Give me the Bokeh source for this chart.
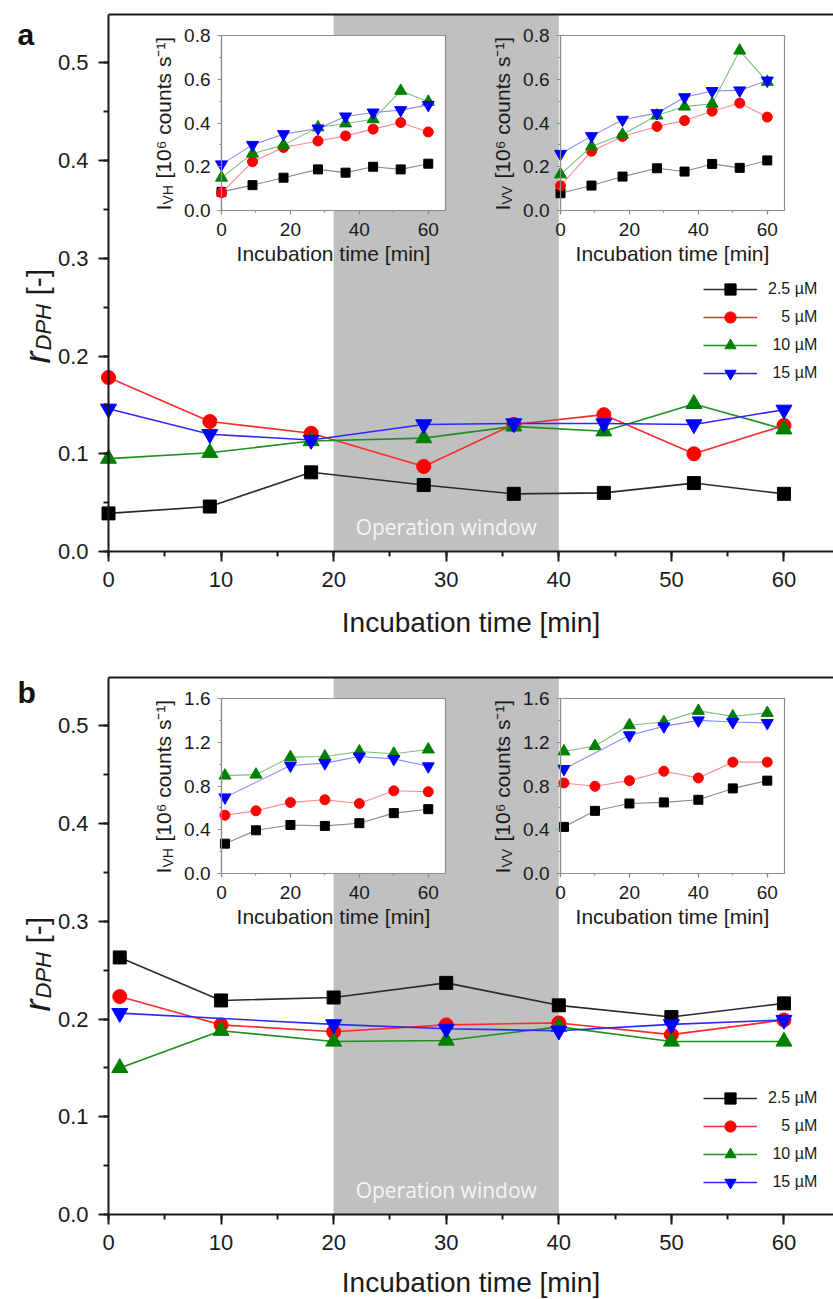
import math
from bokeh.plotting import figure
from bokeh.models import (Range1d, LinearAxis, SingleIntervalTicker, FixedTicker,
                          Label, Legend, LegendItem, PrintfTickFormatter)
from bokeh.layouts import column
from bokeh.embed import file_html
from bokeh.resources import INLINE

# ---------------- data ----------------
series_labels = ["2.5 µM", "\u2007\u20085 µM", "\u200810 µM", "\u200815 µM"]

# panel a : main r_DPH
a_time = [0, 9, 18, 28, 36, 44, 52, 60]
a_r_25 = [0.039, 0.046, 0.081, 0.068, 0.059, 0.060, 0.070, 0.059]
a_r_5 = [0.178, 0.133, 0.121, 0.087, 0.130, 0.140, 0.100, 0.129]
a_r_10 = [0.095, 0.101, 0.113, 0.116, 0.128, 0.123, 0.151, 0.125]
a_r_15 = [0.146, 0.120, 0.114, 0.130, 0.131, 0.131, 0.130, 0.145]
# panel a : inset I_VH
a_vh_25 = [0.085, 0.116, 0.150, 0.188, 0.173, 0.200, 0.188, 0.214]
a_vh_5 = [0.081, 0.223, 0.288, 0.318, 0.341, 0.372, 0.402, 0.359]
a_vh_10 = [0.150, 0.260, 0.300, 0.380, 0.398, 0.417, 0.547, 0.497]
a_vh_15 = [0.211, 0.300, 0.349, 0.375, 0.430, 0.448, 0.459, 0.483]
# panel a : inset I_VV
a_vv_25 = [0.079, 0.114, 0.155, 0.193, 0.178, 0.213, 0.195, 0.229]
a_vv_5 = [0.113, 0.271, 0.338, 0.384, 0.411, 0.454, 0.491, 0.427]
a_vv_10 = [0.165, 0.293, 0.347, 0.434, 0.475, 0.488, 0.731, 0.588]
a_vv_15 = [0.259, 0.340, 0.415, 0.445, 0.518, 0.546, 0.549, 0.594]

# panel b : main r_DPH
b_time = [1, 10, 20, 30, 40, 50, 60]
b_time_15 = [1, 20, 30, 40, 50, 60]
b_r_25 = [0.263, 0.219, 0.222, 0.237, 0.214, 0.202, 0.216]
b_r_5 = [0.223, 0.194, 0.187, 0.194, 0.196, 0.184, 0.199]
b_r_10 = [0.150, 0.188, 0.177, 0.178, 0.192, 0.177, 0.177]
b_r_15 = [0.206, 0.1945, 0.190, 0.188, 0.1945, 0.199]
# panel b : inset I_VH
b_vh_25 = [0.273, 0.395, 0.444, 0.435, 0.460, 0.552, 0.588]
b_vh_5 = [0.533, 0.573, 0.650, 0.674, 0.640, 0.756, 0.748]
b_vh_10 = [0.895, 0.904, 1.064, 1.070, 1.116, 1.095, 1.134]
b_vh_15 = [0.696, 0.987, 1.009, 1.070, 1.048, 0.980]
# panel b : inset I_VV
b_vv_25 = [0.426, 0.573, 0.640, 0.650, 0.674, 0.778, 0.849]
b_vv_5 = [0.828, 0.797, 0.849, 0.935, 0.874, 1.018, 1.018]
b_vv_10 = [1.116, 1.165, 1.355, 1.385, 1.487, 1.437, 1.468]
b_vv_15 = [0.956, 1.264, 1.345, 1.400, 1.385, 1.376]

operation_window = [20, 40]
main_x = (0, 64.4)
main_y = (0, 0.5494)
inset_x = (0, 65)

# ---------------- style / layout ----------------
FONT = "Liberation Sans"
COLORS = ["#000000", "#ff0000", "#008000", "#0000ff"]
LINE_COLORS = ["#2a2a2a", "#ff2a2a", "#1f8f1f", "#2a2aff"]
INSET_LINE_COLORS = ["#8a8a8a", "#ff8a8a", "#7cbf7c", "#8a8aff"]
MARKERS = ["square", "circle", "triangle", "inverted_triangle"]
MAIN_SIZES = [13, 14, 16, 16]
INSET_SIZES = [9, 10, 12, 12]
AXIS_COLOR = "#1a1a1a"
INSET_AXIS_COLOR = "#8c8c8c"

FIG_W = 833
PLOT_L = 108              # px where the main axes cross
PLOT_H = 537              # height of the main data area
LEFT_BOX = (221, 445)     # inset boxes, px from figure left
RIGHT_BOX = (560, 784)
BOX_TOP, BOX_BOTTOM = 21, 196   # px below the top of the data area


def span_range(lo_px, hi_px, total_px, lo, hi, flip=False):
    s = (hi_px - lo_px) / (hi - lo)
    if flip:  # pixels measured from top
        return Range1d(lo - (total_px - hi_px) / s, hi + lo_px / s)
    return Range1d(lo - lo_px / s, hi + (total_px - hi_px) / s)


def style_main_axis(ax):
    ax.axis_line_width = 2
    ax.axis_line_color = AXIS_COLOR
    ax.major_tick_line_width = 2
    ax.minor_tick_line_width = 2
    ax.major_tick_line_color = AXIS_COLOR
    ax.minor_tick_line_color = AXIS_COLOR
    ax.major_tick_out = 10
    ax.major_tick_in = 0
    ax.minor_tick_out = 5
    ax.minor_tick_in = 0
    ax.major_label_text_font = FONT
    ax.major_label_text_font_size = "22px"
    ax.major_label_text_color = AXIS_COLOR
    ax.axis_label_text_font = FONT
    ax.axis_label_text_font_size = "28px"
    ax.axis_label_text_font_style = "normal"
    ax.axis_label_text_color = AXIS_COLOR


def style_inset_axis(ax):
    ax.axis_line_width = 1.2
    ax.axis_line_color = INSET_AXIS_COLOR
    ax.major_tick_line_color = INSET_AXIS_COLOR
    ax.minor_tick_line_color = INSET_AXIS_COLOR
    ax.major_tick_line_width = 1.2
    ax.minor_tick_line_width = 1.2
    ax.major_tick_out = 4
    ax.major_tick_in = 0
    ax.minor_tick_out = 2
    ax.minor_tick_in = 0
    ax.major_label_text_font = FONT
    ax.major_label_text_font_size = "19px"
    ax.major_label_text_color = "#1a1a1a"
    ax.axis_label_text_font = FONT
    ax.axis_label_text_font_size = "21px"
    ax.axis_label_text_font_style = "normal"
    ax.axis_label_text_color = "#1a1a1a"


def rot_label(p, x, y, text, size, style="normal", color="#1a1a1a"):
    p.add_layout(Label(x=x, y=y, x_units="screen", y_units="screen", text=text,
                       angle=math.pi / 2, text_align="left", text_baseline="alphabetic",
                       text_font=FONT, text_font_size=f"{size}px", text_font_style=style,
                       text_color=color))


def build_panel(letter, fig_h, top_b, r_series, vh_series, vv_series,
                ins_ymax, ins_step, legend_top, ylab_bottom, letter_base, title_standoff):
    plot_bottom = top_b + PLOT_H           # px from figure top
    p = figure(width=FIG_W, height=fig_h,
               x_range=span_range(PLOT_L, FIG_W, FIG_W, *main_x),
               y_range=span_range(top_b, plot_bottom, fig_h, *main_y, flip=True),
               x_axis_type=None, y_axis_type=None,
               output_backend="svg", toolbar_location=None,
               min_border=0, min_border_left=0, min_border_right=0,
               min_border_top=0, min_border_bottom=0)
    p.outline_line_color = None
    p.background_fill_color = "white"
    p.border_fill_color = "white"

    # main axes
    xa = LinearAxis(ticker=SingleIntervalTicker(interval=10, num_minor_ticks=2),
                    axis_label="Incubation time [min]", bounds=main_x,
                    fixed_location=main_y[0])
    style_main_axis(xa)
    xa.major_label_standoff = 10
    xa.axis_label_standoff = title_standoff
    p.add_layout(xa, "below")
    ya = LinearAxis(ticker=SingleIntervalTicker(interval=0.1, num_minor_ticks=2),
                    formatter=PrintfTickFormatter(format="%.1f"),
                    fixed_location=main_x[0], bounds=main_y)
    style_main_axis(ya)
    ya.major_label_standoff = 10
    p.add_layout(ya, "left")
    top = LinearAxis(ticker=FixedTicker(ticks=[]), major_tick_out=0, major_tick_in=0,
                     minor_tick_out=0, minor_tick_in=0, major_label_text_font_size="0px",
                     major_label_standoff=0, axis_line_width=2, axis_line_color=AXIS_COLOR,
                     bounds=main_x, fixed_location=main_y[1])
    p.add_layout(top, "above")

    # inset coordinate systems
    p.extra_x_ranges = {
        "ilx": span_range(LEFT_BOX[0], LEFT_BOX[1], FIG_W, *inset_x),
        "irx": span_range(RIGHT_BOX[0], RIGHT_BOX[1], FIG_W, *inset_x),
    }
    p.extra_y_ranges = {"iy": span_range(top_b + BOX_TOP, top_b + BOX_BOTTOM, fig_h,
                                         0, ins_ymax, flip=True)}

    # operation window
    p.quad(left=[operation_window[0]], right=[operation_window[1]],
           bottom=[main_y[0]], top=[main_y[1]], fill_color="#c0c0c0", line_color=None)

    # inset frames
    for xr in ("ilx", "irx"):
        p.quad(left=[inset_x[0]], right=[inset_x[1]], bottom=[0], top=[ins_ymax],
               x_range_name=xr, y_range_name="iy",
               fill_color="white", line_color=INSET_AXIS_COLOR, line_width=1.2)

    # main series
    items = []
    for i, (t, v) in enumerate(r_series):
        lr = p.line(t, v, line_color=LINE_COLORS[i], line_width=1.6)
        sr = p.scatter(t, v, marker=MARKERS[i], size=MAIN_SIZES[i],
                       fill_color=COLORS[i], line_color=COLORS[i])
        items.append(LegendItem(label=series_labels[i], renderers=[lr, sr]))

    # inset series
    for xr, series in (("ilx", vh_series), ("irx", vv_series)):
        for i, (t, v) in enumerate(series):
            p.line(t, v, line_color=INSET_LINE_COLORS[i], line_width=1.1,
                   x_range_name=xr, y_range_name="iy")
            p.scatter(t, v, marker=MARKERS[i], size=INSET_SIZES[i],
                      fill_color=COLORS[i], line_color=COLORS[i],
                      x_range_name=xr, y_range_name="iy")

    # inset axes
    for xr in ("ilx", "irx"):
        ix = LinearAxis(x_range_name=xr, y_range_name="iy", fixed_location=0,
                        bounds=inset_x,
                        ticker=SingleIntervalTicker(interval=20, num_minor_ticks=2),
                        axis_label="Incubation time [min]")
        style_inset_axis(ix)
        ix.major_label_standoff = 8
        ix.axis_label_standoff = 3
        p.add_layout(ix, "below")
        iy = LinearAxis(x_range_name=xr, y_range_name="iy", fixed_location=inset_x[0],
                        bounds=(0, ins_ymax),
                        ticker=SingleIntervalTicker(interval=ins_step, num_minor_ticks=2),
                        formatter=PrintfTickFormatter(format="%.1f"))
        style_inset_axis(iy)
        iy.major_label_standoff = 7
        p.add_layout(iy, "left")

    # screen positions below are measured upward from the figure bottom
    # inset y titles
    base = fig_h - (top_b + BOX_BOTTOM)
    for box, sub in ((LEFT_BOX, "VH"), (RIGHT_BOX, "VV")):
        bx = box[0] - 58
        rot_label(p, bx, base, "I", 21)
        rot_label(p, bx + 4, base + 6, sub, 14)
        rot_label(p, bx, base + 32, "[10\u2076 counts  s\u207b\u00b9]", 21)

    # main y title
    yb = fig_h - ylab_bottom
    rot_label(p, 37, yb, "r", 36, "italic")
    rot_label(p, 43, yb + 13, "DPH", 22, "italic")
    rot_label(p, 37, yb + 68, "[-]", 30)

    # panel letter
    p.add_layout(Label(x=17, y=fig_h - letter_base, x_units="screen", y_units="screen",
                       text=letter, text_font=FONT, text_font_size="30px",
                       text_font_style="bold", text_color="#111111",
                       text_baseline="alphabetic"))

    # operation window label
    p.add_layout(Label(x=sum(operation_window) / 2, y=0.025, text="Operation window",
                       text_align="center", text_baseline="middle",
                       text_font="Open Sans", text_font_size="21px",
                       text_color="#f6f6f6"))

    n = len(items)
    gh = 28
    legend = Legend(items=items, location=(703, fig_h - legend_top - n * gh),
                    glyph_width=54, glyph_height=gh,
                    label_standoff=11, spacing=0, padding=0, margin=0,
                    border_line_color=None, background_fill_alpha=0,
                    label_text_font=FONT, label_text_font_size="16px",
                    label_text_color="#1a1a1a", label_height=20)
    p.add_layout(legend)
    p.xgrid.visible = False
    p.ygrid.visible = False
    return p


pa = build_panel(
    "a", 660, 14,
    [(a_time, a_r_25), (a_time, a_r_5), (a_time, a_r_10), (a_time, a_r_15)],
    [(a_time, a_vh_25), (a_time, a_vh_5), (a_time, a_vh_10), (a_time, a_vh_15)],
    [(a_time, a_vv_25), (a_time, a_vv_5), (a_time, a_vv_10), (a_time, a_vv_15)],
    0.8, 0.2, 275, 363, 34, 17)

pb = build_panel(
    "b", 639, 17,
    [(b_time, b_r_25), (b_time, b_r_5), (b_time, b_r_10), (b_time_15, b_r_15)],
    [(b_time, b_vh_25), (b_time, b_vh_5), (b_time, b_vh_10), (b_time_15, b_vh_15)],
    [(b_time, b_vv_25), (b_time, b_vv_5), (b_time, b_vv_10), (b_time_15, b_vv_15)],
    1.6, 0.4, 424, 351, 32, 14)

layout = column(pa, pb, spacing=0)
open("out.html", "w").write(file_html(layout, INLINE))
